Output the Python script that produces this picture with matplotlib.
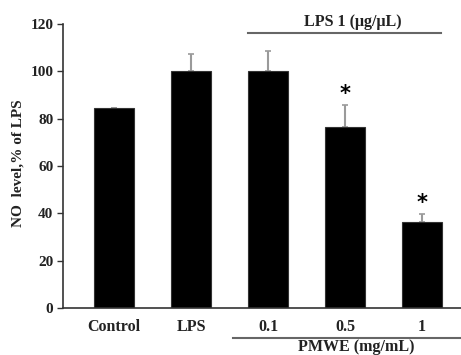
import matplotlib
matplotlib.use("Agg")
import matplotlib.pyplot as plt
import numpy as np

categories = ["Control", "LPS", "0.1", "0.5", "1"]
values = [84.5, 100.0, 100.2, 76.5, 36.5]
errors = [0.0, 7.5, 8.3, 9.3, 3.3]
significant = [False, False, False, True, True]
yticks = [0, 20, 40, 60, 80, 100, 120]

plt.rcParams['font.family'] = ['Liberation Serif', 'DejaVu Serif']
plt.rcParams['font.weight'] = 'bold'

fig = plt.figure(figsize=(4.61, 3.55), dpi=100)
ax = fig.add_axes([63/461, 47/355, 1 - 63/461, 284/355])

x = np.arange(len(categories))
ax.bar(x, values, width=0.52, color='black', edgecolor='#333333', linewidth=0.8, zorder=2)
ax.errorbar(x, values, yerr=[np.zeros(len(errors)), errors], fmt='none',
            ecolor='#9a9a9a', elinewidth=1.5, capsize=2.5, capthick=1.2, zorder=1)

for xi, v, e, s in zip(x, values, errors, significant):
    if s:
        ax.text(xi, v + e + 4.5, '*', ha='center', va='center', fontsize=15,
                fontweight='bold', family='DejaVu Sans')

ax.set_xlim(-0.662, 4.506)
ax.set_ylim(0, 120)
ax.set_yticks(yticks)
ax.set_xticks(x)
ax.set_xticklabels(categories, fontsize=11.5, fontweight='bold', color='#222222')
ax.tick_params(axis='x', length=0, pad=8)
ax.tick_params(axis='y', direction='out', length=4, width=1, color='#333333',
               labelsize=11, labelcolor='#222222', pad=3)
for lbl in ax.get_yticklabels():
    lbl.set_fontweight('bold')
for side in ['top', 'right']:
    ax.spines[side].set_visible(False)
for side in ['left', 'bottom']:
    ax.spines[side].set_color('#333333')
    ax.spines[side].set_linewidth(1.2)

# Top bracket: LPS
ax.plot([1.74, 4.25], [116.2, 116.2], color='#666666', lw=1.5, clip_on=False)
ax.text(3.1, 121.0, 'LPS 1 (μg/μL)', ha='center', va='center', fontsize=11.5,
        fontweight='bold', color='#222222')

# Bottom bracket: PMWE
ax.plot([1.545, 4.52], [-12.7, -12.7], color='#666666', lw=1.5, clip_on=False)
ax.text(3.15, -16.6, 'PMWE (mg/mL)', ha='center', va='center', fontsize=11.5,
        fontweight='bold', color='#222222')

fig.text(18/461, 0.54, 'NO  level,% of LPS', rotation=90, ha='center', va='center',
         fontsize=11, fontweight='bold', color='#222222')

fig.savefig('out.png', dpi=100)
